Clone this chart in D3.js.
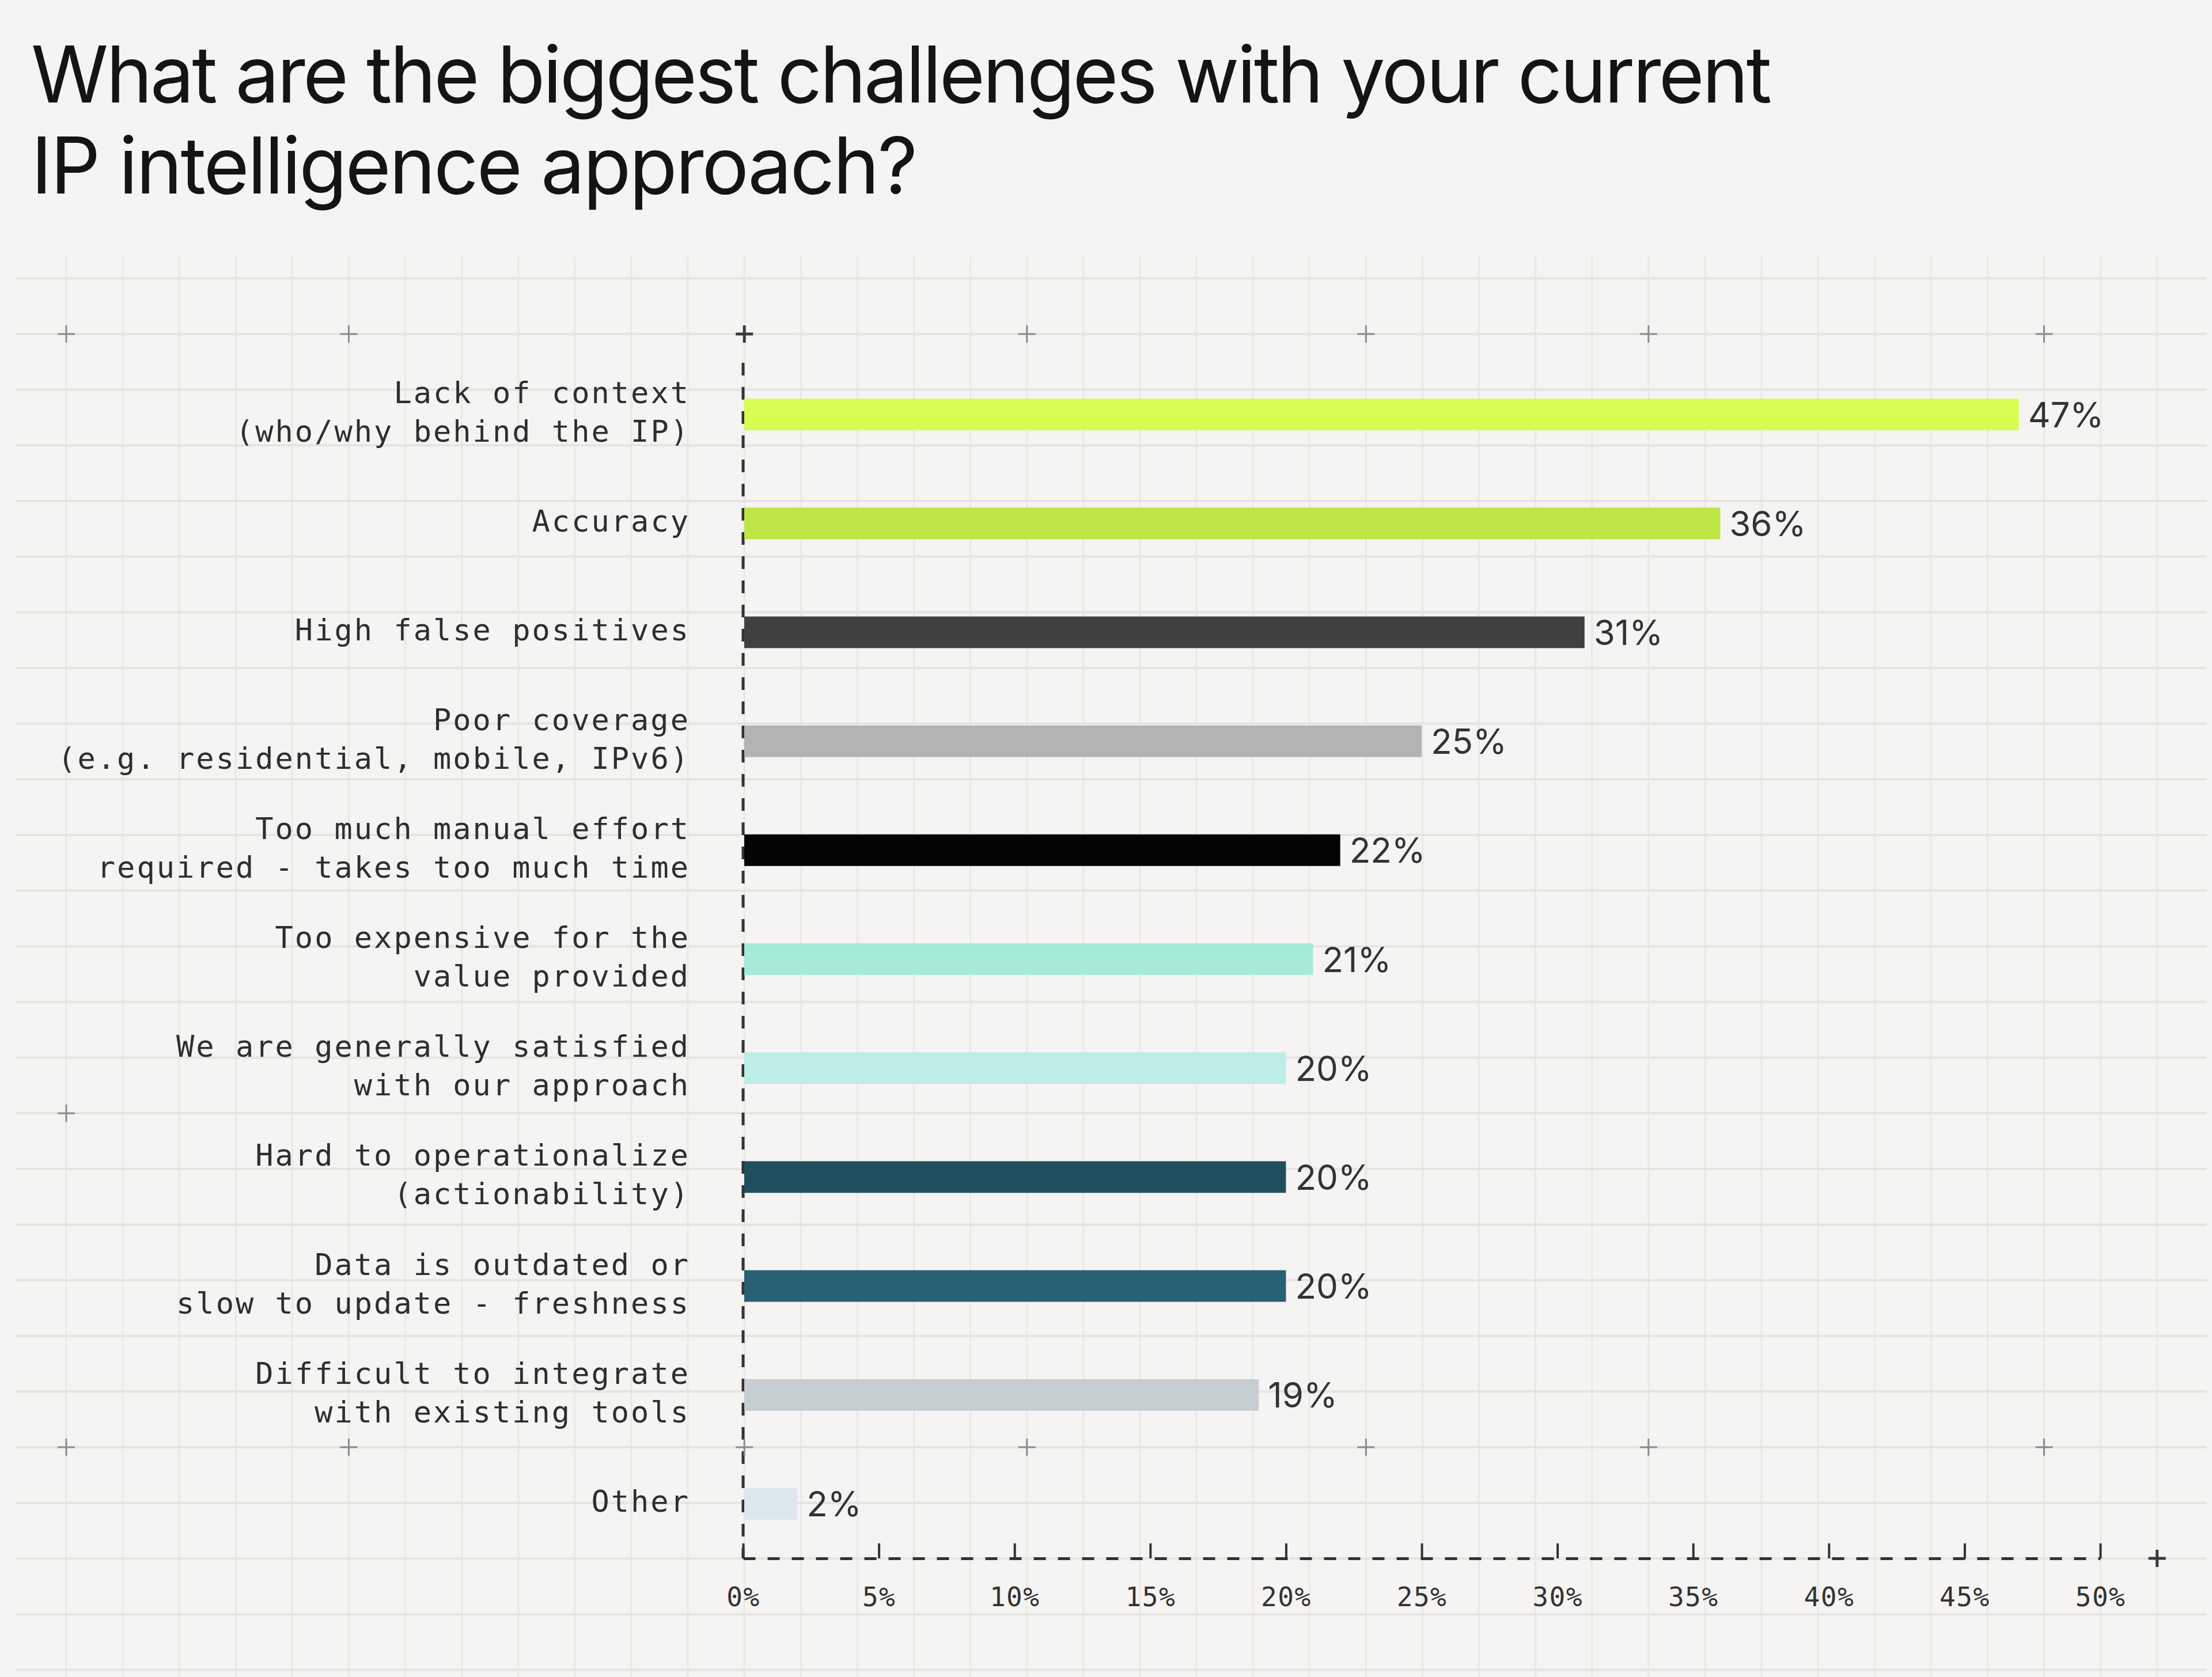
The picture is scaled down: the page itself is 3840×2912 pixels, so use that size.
<!DOCTYPE html>
<html>
<head>
<meta charset="utf-8">
<script src="https://cdn.jsdelivr.net/npm/d3@7"></script>
<style>
  html, body { margin: 0; padding: 0; background: #f5f4f2; }
  svg { display: block; }
</style>
</head>
<body>
<div id="chart"></div>
<script>
// chart data
var categories = [
  "Lack of context\n(who/why behind the IP)",
  "Accuracy",
  "High false positives",
  "Poor coverage\n(e.g. residential, mobile, IPv6)",
  "Too much manual effort\nrequired - takes too much time",
  "Too expensive for the\nvalue provided",
  "We are generally satisfied\nwith our approach",
  "Hard to operationalize\n(actionability)",
  "Data is outdated or\nslow to update - freshness",
  "Difficult to integrate\nwith existing tools",
  "Other"
];
var values = [47, 36, 31, 25, 22, 21, 20, 20, 20, 19, 2];
var tickValues = [0, 5, 10, 15, 20, 25, 30, 35, 40, 45, 50];
var titleLines = [
  "What are the biggest challenges with your current",
  "IP intelligence approach?"
];

// one colour per bar
var barColors = ["#d7fd52", "#bde546", "#404040", "#b3b3b3", "#050505", "#a5e9d9",
  "#bcede6", "#1f4f5f", "#286175", "#c6ced2", "#dce7eb"];

var svgWidth = 3840;
var svgHeight = 2912;

var svg = d3.select("#chart")
  .append("svg")
  .attr("width", svgWidth)
  .attr("height", svgHeight);

svg.append("rect")
  .attr("width", svgWidth)
  .attr("height", svgHeight)
  .attr("fill", "#f5f4f2");

// background grid
var gridX0 = 115, gridStepX = 98.1;
var gridY0 = 580, gridStepY = 96.65;
var gx = (c) => gridX0 + c * gridStepX;
var gy = (r) => gridY0 + r * gridStepY;

var gridGroup = svg.append("g");
gridGroup.selectAll(".vgrid")
  .data(d3.range(0, 38))
  .enter()
  .append("line")
  .attr("x1", d => gx(d))
  .attr("x2", d => gx(d))
  .attr("y1", 445)
  .attr("y2", svgHeight)
  .attr("stroke", "#eae8e5")
  .attr("stroke-width", 3);

gridGroup.selectAll(".hgrid")
  .data(d3.range(-1, 25))
  .enter()
  .append("line")
  .attr("x1", 27)
  .attr("x2", 3831)
  .attr("y1", d => gy(d))
  .attr("y2", d => gy(d))
  .attr("stroke", "#e6e4e1")
  .attr("stroke-width", 4);

// title, squeezed to the reference line widths
var title = svg.append("g");
var titleWidths = [3022, 1539];
titleLines.forEach(function (line, i) {
  var t = title.append("text")
    .attr("x", 54)
    .attr("y", 178 + i * 158)
    .attr("font-family", "Inter, 'Noto Sans', sans-serif")
    .attr("font-size", 136)
    .attr("fill", "#141414")
    .text(line);
  var w = t.node().getComputedTextLength();
  var ls = (titleWidths[i] - w) / (line.length - 1);
  t.attr("letter-spacing", ls);
});

// scales
var x = d3.scaleLinear()
  .domain([0, 50])
  .range([1290, 3646]);

var y = d3.scaleBand()
  .domain(categories)
  .range([625, 2706])
  .paddingInner(0.71)
  .paddingOuter(0.355);

var axisY = 2706;

// plus markers on the grid
var lightPlus = [[0, 0], [5, 0], [17, 0], [23, 0], [28, 0], [35, 0], [0, 14],
  [0, 20], [5, 20], [12, 20], [17, 20], [23, 20], [28, 20], [35, 20]];
var darkPlus = [[gx(12), gy(0)], [gx(37), axisY]];

function drawPlus(g, cx, cy, half, color, width) {
  g.append("line").attr("x1", cx - half).attr("x2", cx + half).attr("y1", cy).attr("y2", cy)
    .attr("stroke", color).attr("stroke-width", width);
  g.append("line").attr("x1", cx).attr("x2", cx).attr("y1", cy - half).attr("y2", cy + half)
    .attr("stroke", color).attr("stroke-width", width);
}

// axes
var chartGroup = svg.append("g");

chartGroup.append("line")
  .attr("x1", x(0))
  .attr("x2", x(0))
  .attr("y1", 630)
  .attr("y2", axisY)
  .attr("stroke", "#333")
  .attr("stroke-width", 5)
  .attr("stroke-dasharray", "22 20");

var bottomAxis = d3.axisBottom(x)
  .tickValues(tickValues)
  .tickFormat(d => d + "%")
  .tickSize(-26)
  .tickSizeOuter(0)
  .tickPadding(50);

var xAxis = chartGroup.append("g")
  .attr("transform", `translate(0, ${axisY})`)
  .call(bottomAxis);

xAxis.select(".domain")
  .attr("stroke", "#333")
  .attr("stroke-width", 5)
  .attr("stroke-dasharray", "21 21");

xAxis.selectAll(".tick line")
  .attr("stroke", "#333")
  .attr("stroke-width", 4);

xAxis.selectAll(".tick text")
  .attr("font-family", "'DejaVu Sans Mono', monospace")
  .attr("font-size", 46)
  .attr("letter-spacing", 1.5)
  .attr("fill", "#333");

var plusGroup = svg.append("g");
lightPlus.forEach(p => drawPlus(plusGroup, gx(p[0]), gy(p[1]), 15, "#8c8c8c", 3));
darkPlus.forEach(p => drawPlus(plusGroup, p[0], p[1], 15, "#3a3a3a", 5));

// bars
chartGroup.selectAll(".bar")
  .data(values)
  .enter()
  .append("rect")
  .attr("x", x(0) + 2)
  .attr("y", (d, i) => y(categories[i]))
  .attr("width", d => x(d) - x(0) - 2)
  .attr("height", y.bandwidth())
  .attr("fill", (d, i) => barColors[i]);

// value labels
chartGroup.selectAll(".value")
  .data(values)
  .enter()
  .append("text")
  .attr("x", d => x(d) + 16)
  .attr("y", (d, i) => y(categories[i]) + y.bandwidth() / 2 + 22)
  .attr("font-family", "Inter, 'Noto Sans', sans-serif")
  .attr("font-size", 60)
  .attr("fill", "#333")
  .text(d => d + "%");

// category labels
var lineHeight = 67;
categories.forEach(function (cat) {
  var lines = cat.split("\n");
  var cy = y(cat) + y.bandwidth() / 2;
  var t = chartGroup.append("text")
    .attr("text-anchor", "end")
    .attr("font-family", "'DejaVu Sans Mono', monospace")
    .attr("font-size", 52)
    .attr("letter-spacing", 3)
    .attr("fill", "#2e2e2e");
  lines.forEach(function (line, i) {
    t.append("tspan")
      .attr("x", 1198)
      .attr("y", cy + (i - (lines.length - 1) / 2) * lineHeight + 14)
      .text(line);
  });
});
</script>
</body>
</html>
